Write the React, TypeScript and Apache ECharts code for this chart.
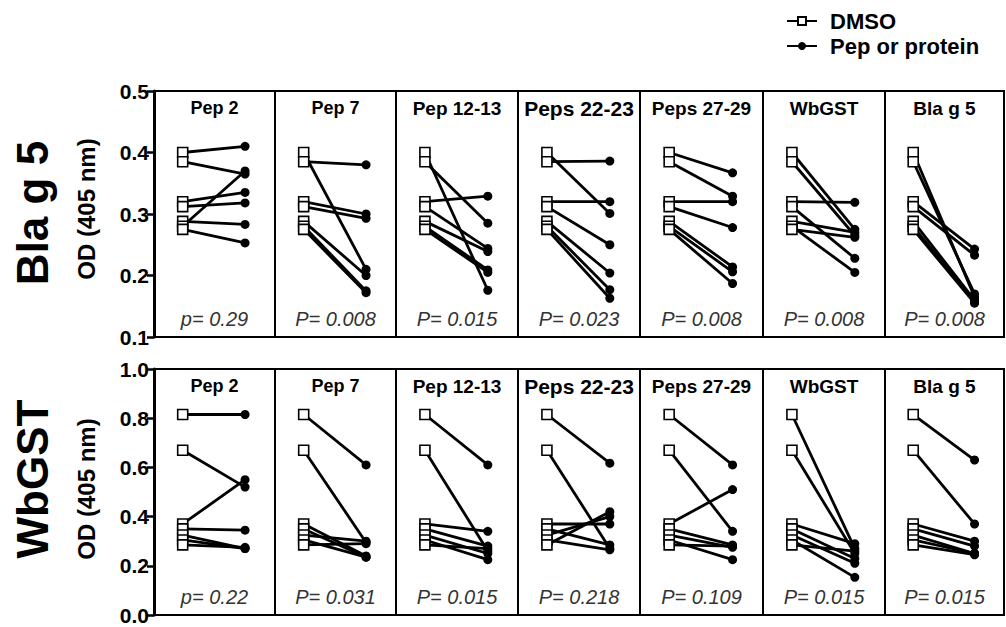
import React, { useEffect, useRef } from "react";
import * as echarts from "echarts";

const panelNames = ["Pep 2", "Pep 7", "Pep 12-13", "Peps 22-23", "Peps 27-29", "WbGST", "Bla g 5"];
const rowNames = ["Bla g 5", "WbGST"];

// Row 1: Bla g 5
const blaDmso = [0.4, 0.385, 0.32, 0.312, 0.288, 0.28, 0.275];
const blaPep2 = [0.41, 0.365, 0.335, 0.318, 0.283, 0.37, 0.253];
const blaPep7 = [0.21, 0.38, 0.3, 0.293, 0.2, 0.175, 0.172];
const blaPep1213 = [0.176, 0.285, 0.329, 0.244, 0.239, 0.209, 0.205];
const blaPeps2223 = [0.301, 0.386, 0.32, 0.25, 0.204, 0.177, 0.163];
const blaPeps2729 = [0.367, 0.329, 0.32, 0.278, 0.214, 0.206, 0.187];
const blaWbGST = [0.275, 0.265, 0.319, 0.228, 0.27, 0.205, 0.262];
const blaBlag5 = [0.165, 0.17, 0.243, 0.233, 0.16, 0.157, 0.155];
const blaP = ["p= 0.29", "P= 0.008", "P= 0.015", "P= 0.023", "P= 0.008", "P= 0.008", "P= 0.008"];

// Row 2: WbGST
const wbDmso = [0.815, 0.67, 0.37, 0.35, 0.325, 0.305, 0.285];
const wbPep2 = [0.815, 0.52, 0.55, 0.345, 0.27, 0.27, 0.275];
const wbPep7 = [0.61, 0.295, 0.24, 0.235, 0.3, 0.235, 0.29];
const wbPep1213 = [0.61, 0.26, 0.34, 0.28, 0.25, 0.225, 0.27];
const wbPeps2223 = [0.617, 0.27, 0.37, 0.285, 0.4, 0.265, 0.42];
const wbPeps2729 = [0.61, 0.34, 0.51, 0.285, 0.275, 0.225, 0.28];
const wbWbGST = [0.27, 0.25, 0.29, 0.23, 0.21, 0.153, 0.26];
const wbBlag5 = [0.63, 0.37, 0.3, 0.28, 0.25, 0.25, 0.245];
const wbP = ["p= 0.22", "P= 0.031", "P= 0.015", "P= 0.218", "P= 0.109", "P= 0.015", "P= 0.015"];

const blaAxis = { min: 0.1, max: 0.5, interval: 0.1 };
const wbAxis = { min: 0, max: 1.0, interval: 0.2 };

const rows = [
  { dmso: blaDmso, pep: [blaPep2, blaPep7, blaPep1213, blaPeps2223, blaPeps2729, blaWbGST, blaBlag5], p: blaP, axis: blaAxis },
  { dmso: wbDmso, pep: [wbPep2, wbPep7, wbPep1213, wbPeps2223, wbPeps2729, wbWbGST, wbBlag5], p: wbP, axis: wbAxis },
];

const FONT = '"Liberation Sans", Arial, sans-serif';
const colEdges = [154, 275, 396, 518, 640, 763, 885, 1004];
const rowTops = [91, 369];
const rowHeight = 246;
const titleSizes = [18, 18, 19, 21, 19, 19, 19];

function buildOption() {
  const grid: any[] = [];
  const xAxis: any[] = [];
  const yAxis: any[] = [];
  const series: any[] = [];
  const graphic: any[] = [];

  rows.forEach((row, r) => {
    for (let c = 0; c < 7; c++) {
      const gi = r * 7 + c;
      grid.push({
        left: colEdges[c],
        top: rowTops[r],
        width: colEdges[c + 1] - colEdges[c],
        height: rowHeight,
        show: true,
        borderColor: "#000",
        borderWidth: 2,
        backgroundColor: "#fff",
      });
      xAxis.push({ type: "value", gridIndex: gi, min: -0.46, max: 1.48, show: false });
      yAxis.push({
        type: "value",
        gridIndex: gi,
        min: row.axis.min,
        max: row.axis.max,
        interval: row.axis.interval,
        show: c === 0,
        splitLine: { show: false },
        axisLine: { show: true, onZero: false, lineStyle: { color: "#000", width: 3 } },
        axisTick: { show: true, length: 7, lineStyle: { color: "#000", width: 2.5 } },
        axisLabel: {
          color: "#000",
          fontWeight: "bold",
          fontSize: 21,
          fontFamily: FONT,
          margin: 5,
          formatter: (v: number) => v.toFixed(1),
        },
      });
      const pep = row.pep[c];
      row.dmso.forEach((d, k) => {
        series.push({
          type: "line",
          xAxisIndex: gi,
          yAxisIndex: gi,
          lineStyle: { color: "#000", width: 2.8 },
          silent: true,
          data: [
            {
              value: [0, d],
              symbol: "rect",
              symbolSize: 10,
              itemStyle: { color: "#fff", borderColor: "#000", borderWidth: 1.6 },
            },
            {
              value: [1, pep[k]],
              symbol: "circle",
              symbolSize: 9,
              itemStyle: { color: "#000", borderColor: "#000", borderWidth: 0 },
            },
          ],
        });
      });
      const cx = (colEdges[c] + colEdges[c + 1]) / 2;
      graphic.push({
        type: "text",
        x: cx,
        y: rowTops[r] + 17,
        z: 100,
        style: {
          text: panelNames[c],
          font: `bold ${titleSizes[c]}px ${FONT}`,
          fill: "#000",
          align: "center",
          verticalAlign: "middle",
          textAlign: "center",
          textVerticalAlign: "middle",
        },
      });
      graphic.push({
        type: "text",
        x: cx,
        y: rowTops[r] + 228,
        z: 100,
        style: {
          text: row.p[c],
          font: `italic 20px ${FONT}`,
          fill: "#333",
          align: "center",
          verticalAlign: "middle",
          textAlign: "center",
          textVerticalAlign: "middle",
        },
      });
    }
    graphic.push({
      type: "text",
      x: 32,
      y: r === 0 ? 213 : 479,
      rotation: Math.PI / 2,
      style: {
        text: rowNames[r],
        font: `bold 44px ${FONT}`,
        fill: "#000",
        align: "center",
        verticalAlign: "middle",
        textAlign: "center",
        textVerticalAlign: "middle",
      },
    });
    graphic.push({
      type: "text",
      x: 86,
      y: r === 0 ? 209 : 489,
      rotation: Math.PI / 2,
      style: {
        text: "OD (405 nm)",
        font: `bold 24px ${FONT}`,
        fill: "#000",
        align: "center",
        verticalAlign: "middle",
        textAlign: "center",
        textVerticalAlign: "middle",
      },
    });
  });

  series.push({
    type: "line",
    name: "DMSO",
    xAxisIndex: 0,
    yAxisIndex: 0,
    data: [],
    symbol: "rect",
    symbolSize: 9,
    lineStyle: { color: "#000", width: 2.5 },
    itemStyle: { color: "#fff", borderColor: "#000", borderWidth: 1.5 },
  });
  series.push({
    type: "line",
    name: "Pep or protein",
    xAxisIndex: 0,
    yAxisIndex: 0,
    data: [],
    symbol: "circle",
    symbolSize: 9,
    lineStyle: { color: "#000", width: 2.5 },
    itemStyle: { color: "#000" },
  });

  return {
    animation: false,
    backgroundColor: "#fff",
    grid,
    xAxis,
    yAxis,
    series,
    graphic,
    legend: {
      orient: "vertical",
      left: 781,
      top: 5,
      itemWidth: 30,
      itemHeight: 10,
      itemGap: 3,
      selectedMode: false,
      data: ["DMSO", "Pep or protein"],
      textStyle: {
        color: "#000",
        fontWeight: "bold",
        fontSize: 22,
        fontFamily: FONT,
        padding: [0, 0, 0, 8],
      },
    },
  };
}

export default function App() {
  const ref = useRef<HTMLDivElement>(null);
  useEffect(() => {
    if (!ref.current) return;
    const chart = echarts.init(ref.current, undefined, { renderer: "svg" });
    chart.setOption(buildOption() as any);
    return () => chart.dispose();
  }, []);
  return (
    <div
      ref={ref}
      style={{ position: "absolute", left: 0, top: 0, width: 1006, height: 627, background: "#fff" }}
    />
  );
}
